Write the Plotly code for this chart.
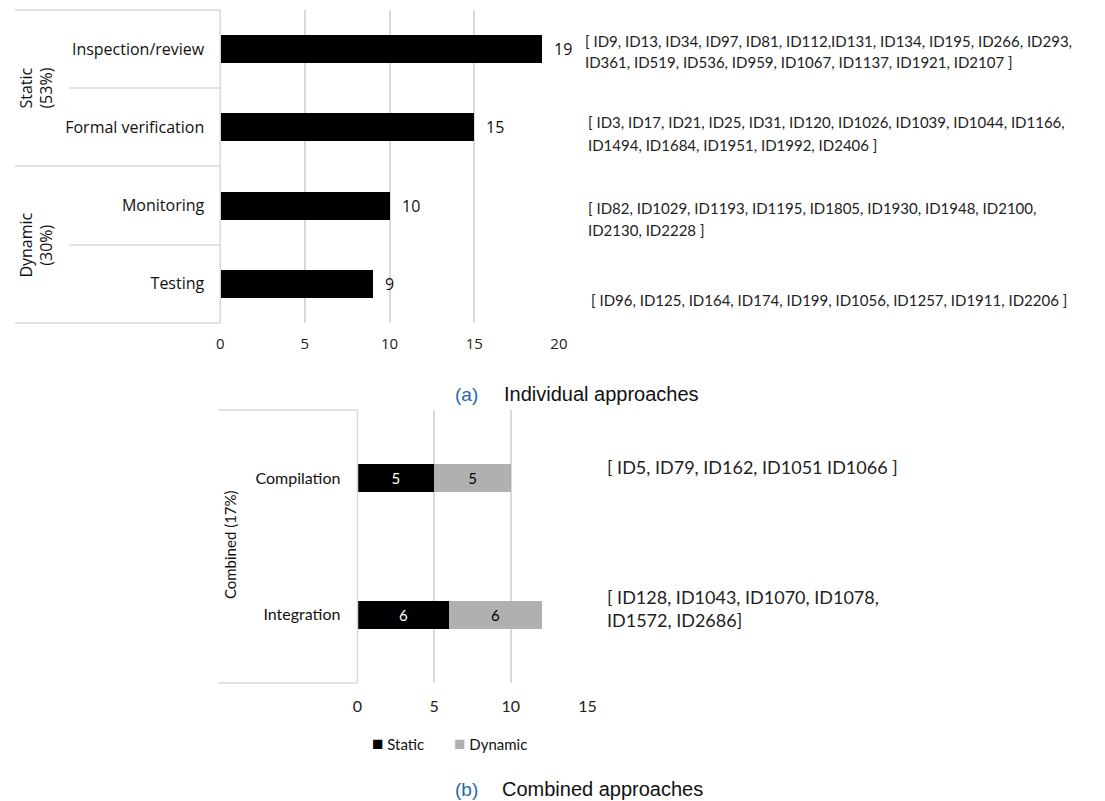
import plotly.graph_objects as go

# ---- data: individual approaches ----
ind_categories = ["Inspection/review", "Formal verification", "Monitoring", "Testing"]
ind_counts = [19, 15, 10, 9]
ind_groups = ["Static<br>(53%)", "Dynamic<br>(30%)"]
ind_ids = [
    ["[ ID9, ID13, ID34, ID97, ID81, ID112,ID131, ID134, ID195, ID266, ID293,",
     "ID361, ID519, ID536, ID959, ID1067, ID1137, ID1921, ID2107 ]"],
    ["[ ID3, ID17, ID21, ID25, ID31, ID120, ID1026, ID1039, ID1044, ID1166,",
     "ID1494, ID1684, ID1951, ID1992, ID2406 ]"],
    ["[ ID82, ID1029, ID1193, ID1195, ID1805, ID1930, ID1948, ID2100,",
     "ID2130, ID2228 ]"],
    ["[ ID96, ID125, ID164, ID174, ID199, ID1056, ID1257, ID1911, ID2206 ]"],
]
ind_ticks = [0, 5, 10, 15, 20]

# ---- data: combined approaches ----
comb_categories = ["Compilation", "Integration"]
comb_static = [5, 6]
comb_dynamic = [5, 6]
comb_group = "Combined (17%)"
comb_ids = [
    ["[ ID5, ID79, ID162, ID1051 ID1066 ]"],
    ["[ ID128, ID1043, ID1070, ID1078,", "ID1572, ID2686]"],
]
comb_ticks = [0, 5, 10, 15]
series_names = ["Static", "Dynamic"]
series_colors = ["#000000", "#b0b0b0"]

W, H = 1105, 801
GRID = "#d9d9d9"
TOP_FONT = "Open Sans"
BOT_FONT = "Lato"


def px(x):
    return x / W


def py(y):
    return 1 - y / H


fig = go.Figure()

# top chart
fig.add_trace(go.Bar(
    x=ind_counts, y=ind_categories, orientation="h",
    marker=dict(color="#000000", line=dict(width=0)),
    width=0.36, showlegend=False, xaxis="x", yaxis="y",
    hoverinfo="x+y",
))

# bottom chart (stacked)
for name, color, vals, tcolor in zip(series_names, series_colors,
                                     [comb_static, comb_dynamic],
                                     ["#ffffff", "#000000"]):
    fig.add_trace(go.Bar(
        x=vals, y=comb_categories, orientation="h", name=name,
        marker=dict(color=color, line=dict(width=0)), width=0.205,
        text=[str(v) for v in vals], textposition="inside",
        insidetextanchor="middle", showlegend=False,
        textfont=dict(color=tcolor, size=15, family=BOT_FONT),
        xaxis="x2", yaxis="y2",
    ))

annotations = []
shapes = []

# value labels next to the individual bars
for cat, v in zip(ind_categories, ind_counts):
    annotations.append(dict(
        x=v, y=cat, xref="x", yref="y", text=str(v), showarrow=False,
        xanchor="left", yanchor="middle", xshift=10,
        font=dict(size=16, family=TOP_FONT, color="#111111"),
    ))

# study id lists for the individual approaches
ind_id_pos = [(585, [41, 62]), (588, [122, 145]), (588, [208, 230]), (591, [300])]
for lines, (x0, ys) in zip(ind_ids, ind_id_pos):
    for line, y in zip(lines, ys):
        annotations.append(dict(
            x=px(x0), y=py(y), xref="paper", yref="paper", text=line,
            showarrow=False, xanchor="left", yanchor="middle",
            font=dict(size=15, family="Lato", color="#222222"),
        ))

# study id lists for the combined approaches
comb_id_pos = [(608, [467]), (608, [597, 620])]
for lines, (x0, ys) in zip(comb_ids, comb_id_pos):
    for line, y in zip(lines, ys):
        annotations.append(dict(
            x=px(x0), y=py(y), xref="paper", yref="paper", text=line,
            showarrow=False, xanchor="left", yanchor="middle",
            font=dict(size=18, family="Lato", color="#222222"),
        ))

# group labels
for label, yc in zip(ind_groups, [88, 245]):
    annotations.append(dict(
        x=px(31), y=py(yc), xref="paper", yref="paper", text=label,
        showarrow=False, textangle=-90, xanchor="center", yanchor="middle",
        font=dict(size=16, family=TOP_FONT, color="#111111"),
    ))
annotations.append(dict(
    x=px(228), y=py(545), xref="paper", yref="paper", text=comb_group,
    showarrow=False, textangle=-90, xanchor="center", yanchor="middle",
    font=dict(size=15, family=BOT_FONT, color="#111111"),
))

# legend for the combined chart
for name, color, x0 in zip(series_names, series_colors, [370, 453]):
    annotations.append(dict(
        x=px(x0), y=py(742), xref="paper", yref="paper",
        text=f"<span style='color:{color};font-size:19px'>■</span> {name}",
        showarrow=False, xanchor="left", yanchor="middle",
        font=dict(size=15, family=BOT_FONT, color="#111111"),
    ))

# captions
for tag, cap, yc, xcap in [("(a)", "Individual approaches", 394, 503),
                           ("(b)", "Combined approaches", 789, 501)]:
    annotations.append(dict(
        x=px(454), y=py(yc), xref="paper", yref="paper", text=tag,
        showarrow=False, xanchor="left", yanchor="middle",
        font=dict(size=19, family="Liberation Sans", color="#1f6aa8"),
    ))
    annotations.append(dict(
        x=px(xcap), y=py(yc), xref="paper", yref="paper", text=cap,
        showarrow=False, xanchor="left", yanchor="middle",
        font=dict(size=20, family="Liberation Sans", color="#111111"),
    ))

# table frame lines on the left of the individual chart
line_style = dict(color=GRID, width=1.5)
for x0, y in [(10, 10), (65, 88), (10, 166), (65, 245), (10, 323)]:
    shapes.append(dict(type="line", xref="paper", yref="paper",
                       x0=px(x0), x1=px(218), y0=py(y), y1=py(y), line=line_style))
shapes.append(dict(type="line", xref="paper", yref="paper",
                   x0=px(218), x1=px(218), y0=py(10), y1=py(323), line=line_style))
# frame for the combined chart
for y in [410, 683]:
    shapes.append(dict(type="line", xref="paper", yref="paper",
                       x0=px(216), x1=px(357), y0=py(y), y1=py(y), line=line_style))
shapes.append(dict(type="line", xref="paper", yref="paper",
                   x0=px(357), x1=px(357), y0=py(410), y1=py(683), line=line_style))

fig.update_layout(
    width=W, height=H,
    margin=dict(l=0, r=0, t=0, b=0),
    paper_bgcolor="#ffffff", plot_bgcolor="#ffffff",
    barmode="stack", showlegend=False,
    xaxis=dict(domain=[px(218), px(561)], range=[0, 20], tickvals=ind_ticks,
               showgrid=True, gridcolor=GRID, gridwidth=1.5, zeroline=False,
               showline=False, ticks="", anchor="y", ticklabelstandoff=10,
               tickfont=dict(size=15, family=TOP_FONT, color="#222222")),
    yaxis=dict(domain=[py(323), py(10)], type="category",
               categoryarray=ind_categories, range=[3.5, -0.5],
               showgrid=False, zeroline=False, showline=False, ticks="",
               anchor="x", ticklabelstandoff=15,
               tickfont=dict(size=16, family=TOP_FONT, color="#111111")),
    xaxis2=dict(domain=[px(357), px(590)], range=[0, 15], tickvals=comb_ticks,
                showgrid=True, gridcolor=GRID, gridwidth=1.5, zeroline=False,
                showline=False, ticks="", anchor="y2", ticklabelstandoff=12,
                tickfont=dict(size=16, family=BOT_FONT, color="#222222")),
    yaxis2=dict(domain=[py(683), py(410)], type="category",
                categoryarray=comb_categories, range=[1.5, -0.5],
                showgrid=False, zeroline=False, showline=False, ticks="",
                anchor="x2", ticklabelstandoff=16,
                tickfont=dict(size=16, family=BOT_FONT, color="#111111")),
    annotations=annotations,
    shapes=shapes,
)

fig.write_html("out.html")
